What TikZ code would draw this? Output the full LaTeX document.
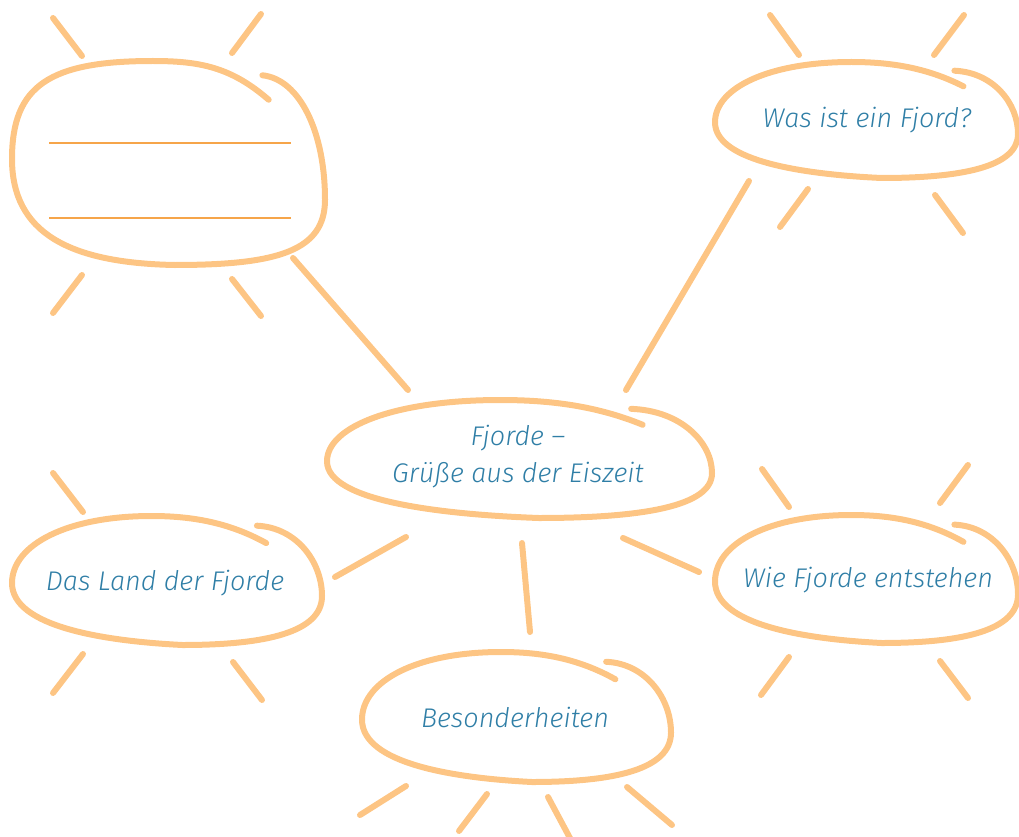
\documentclass[tikz,border=0pt]{standalone}
\usepackage{fontspec}
\newfontfamily\hand{Fira Sans}[UprightFont=* Light Italic]
\definecolor{bubor}{HTML}{FDC584}
\definecolor{lineor}{HTML}{F6A54A}
\definecolor{txtblue}{HTML}{2F7EA6}
\tikzset{
  bub/.style={draw=bubor,line width=6pt,line cap=round,line join=round},
  ray/.style={draw=bubor,line width=6pt,line cap=round},
  lbl/.style={text=txtblue,font=\hand\fontsize{27}{37}\selectfont,anchor=base,inner sep=0pt,align=center},
  writeline/.style={draw=lineor,line width=1.2pt}
}
% #1 left, #2 top, #3 width, #4 height (pixels)
\newcommand\drawbubble[4]{%
  \begin{scope}[shift={(#1,#2)},xscale=#3,yscale=#4]
    \draw[bub] (0.82,0.21) .. controls (0.70,0.05) and (0.58,0) .. (0.45,0)
      .. controls (0.18,0) and (0,0.22) .. (0,0.52)
      .. controls (0,0.86) and (0.30,0.97) .. (0.55,1)
      .. controls (0.82,1.0) and (1.0,0.90) .. (1,0.62)
      .. controls (1,0.36) and (0.92,0.09) .. (0.79,0.075);
  \end{scope}}
\newcommand\drawboxbubble[4]{%
  \begin{scope}[shift={(#1,#2)},xscale=#3,yscale=#4]
    \draw[bub] (0.82,0.19) .. controls (0.70,0.03) and (0.60,0) .. (0.45,0)
      .. controls (0.12,0) and (0,0.12) .. (0,0.48)
      .. controls (0,0.84) and (0.18,0.99) .. (0.52,1)
      .. controls (0.85,1.0) and (1.0,0.93) .. (1,0.68)
      .. controls (1,0.35) and (0.92,0.09) .. (0.80,0.07);
  \end{scope}}
\begin{document}
\begin{tikzpicture}[x=1pt,y=-1pt]
\useasboundingbox (0,0) rectangle (1019,837);
% bubbles
\drawboxbubble{12}{61}{313}{204}
\drawbubble{715}{62}{303}{116}
\drawbubble{327}{400}{385}{118}
\drawbubble{12}{516}{310}{129}
\drawbubble{715}{515}{303}{128}
\drawbubble{362}{652}{309}{130}
% writing lines in empty bubble
\coordinate (l1a) at (49,143); \coordinate (l1b) at (291,143);
\coordinate (l2a) at (49,218); \coordinate (l2b) at (291,218);
\draw[writeline] (l1a) -- (l1b);
\draw[writeline] (l2a) -- (l2b);
% labels
\node[lbl] (main) at (518,482) {Fjorde –\\Grüße aus der Eiszeit};
\node[lbl] (was) at (867,128) {Was ist ein Fjord?};
\node[lbl] (land) at (165,590) {Das Land der Fjorde};
\node[lbl] (wie) at (868,587) {Wie Fjorde entstehen};
\node[lbl] (bes) at (515,727) {Besonderheiten};
% connectors
\coordinate (c1a) at (293,258); \coordinate (c1b) at (408,390);
\coordinate (c2a) at (749,181); \coordinate (c2b) at (626,390);
\coordinate (c3a) at (406,537); \coordinate (c3b) at (335,577);
\coordinate (c4a) at (522,543); \coordinate (c4b) at (530,632);
\coordinate (c5a) at (623,538); \coordinate (c5b) at (699,572);
\draw[ray] (c1a) -- (c1b);
\draw[ray] (c2a) -- (c2b);
\draw[ray] (c3a) -- (c3b);
\draw[ray] (c4a) -- (c4b);
\draw[ray] (c5a) -- (c5b);
% rays top-left bubble
\coordinate (r1a) at (53,18);  \coordinate (r1b) at (82,56);
\coordinate (r2a) at (261,14); \coordinate (r2b) at (232,53);
\coordinate (r3a) at (82,275); \coordinate (r3b) at (53,313);
\coordinate (r4a) at (232,279);\coordinate (r4b) at (261,316);
\draw[ray] (r1a) -- (r1b); \draw[ray] (r2a) -- (r2b);
\draw[ray] (r3a) -- (r3b); \draw[ray] (r4a) -- (r4b);
% rays top-right bubble
\coordinate (r5a) at (770,15);  \coordinate (r5b) at (799,55);
\coordinate (r6a) at (964,15);  \coordinate (r6b) at (934,55);
\coordinate (r7a) at (808,189); \coordinate (r7b) at (780,227);
\coordinate (r8a) at (935,195); \coordinate (r8b) at (963,233);
\draw[ray] (r5a) -- (r5b); \draw[ray] (r6a) -- (r6b);
\draw[ray] (r7a) -- (r7b); \draw[ray] (r8a) -- (r8b);
% rays left bubble
\coordinate (r9a) at (53,473);  \coordinate (r9b) at (83,512);
\coordinate (r10a) at (83,654); \coordinate (r10b) at (53,693);
\coordinate (r11a) at (233,662);\coordinate (r11b) at (262,700);
\draw[ray] (r9a) -- (r9b); \draw[ray] (r10a) -- (r10b); \draw[ray] (r11a) -- (r11b);
% rays right bubble
\coordinate (r12a) at (762,469); \coordinate (r12b) at (789,507);
\coordinate (r13a) at (968,465); \coordinate (r13b) at (940,503);
\coordinate (r14a) at (789,657); \coordinate (r14b) at (761,695);
\coordinate (r15a) at (940,661); \coordinate (r15b) at (968,698);
\draw[ray] (r12a) -- (r12b); \draw[ray] (r13a) -- (r13b);
\draw[ray] (r14a) -- (r14b); \draw[ray] (r15a) -- (r15b);
% rays bottom bubble
\coordinate (r16a) at (406,786); \coordinate (r16b) at (360,815);
\coordinate (r17a) at (487,794); \coordinate (r17b) at (459,831);
\coordinate (r18a) at (548,797); \coordinate (r18b) at (571,840);
\coordinate (r19a) at (627,787); \coordinate (r19b) at (672,825);
\draw[ray] (r16a) -- (r16b); \draw[ray] (r17a) -- (r17b);
\draw[ray] (r18a) -- (r18b); \draw[ray] (r19a) -- (r19b);
\end{tikzpicture}
\end{document}
